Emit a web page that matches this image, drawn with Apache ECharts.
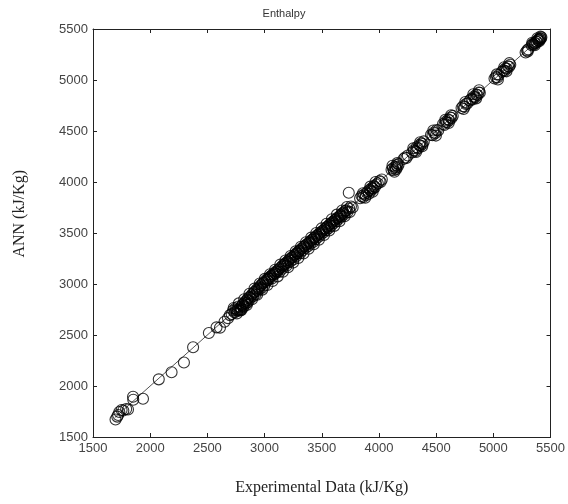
<!DOCTYPE html>
<html>
<head>
<meta charset="utf-8">
<title>Enthalpy</title>
<script src="https://cdn.jsdelivr.net/npm/echarts@6/dist/echarts.min.js"></script>
<style>
  html, body { margin: 0; padding: 0; background: #fff; }
  #chart { width: 568px; height: 504px; }
</style>
</head>
<body>
<div id="chart"></div>
<script>
// Enthalpy: ANN prediction vs experimental data (kJ/Kg)
const axisTicks = [1500, 2000, 2500, 3000, 3500, 4000, 4500, 5000, 5500];

// low-enthalpy points
const expLow = [1697, 1712, 1720, 1730, 1750, 1765, 1790, 1806, 1850, 1852, 1937, 2075, 2187, 2295, 2375, 2513, 2580, 2610, 2650, 2680, 2697];
const annLow = [1672, 1700, 1716, 1745, 1765, 1760, 1775, 1770, 1895, 1865, 1875, 2065, 2135, 2230, 2380, 2520, 2575, 2572, 2630, 2665, 2695];

// dense middle band
const expMid = [2712, 2725, 2738, 2745, 2752, 2760, 2771, 2780, 2788, 2795, 2802, 2810, 2818, 2826, 2833, 2840, 2848, 2855, 2862, 2870,
  2878, 2886, 2893, 2900, 2908, 2915, 2922, 2930, 2938, 2945, 2952, 2960, 2968, 2975, 2983, 2990, 2998, 3005, 3012, 3020,
  3028, 3035, 3042, 3050, 3058, 3065, 3072, 3080, 3088, 3095, 3102, 3110, 3118, 3125, 3132, 3140, 3148, 3155, 3162, 3170,
  3178, 3185, 3192, 3200, 3208, 3215, 3222, 3230, 3238, 3245, 3252, 3260, 3268, 3275, 3282, 3290, 3298, 3305, 3312, 3320,
  3328, 3335, 3342, 3350, 3358, 3365, 3372, 3380, 3388, 3395, 3402, 3410, 3418, 3425, 3432, 3440, 3448, 3455, 3462, 3470,
  3478, 3485, 3492, 3500, 3508, 3515, 3522, 3530, 3538, 3545, 3552, 3560, 3568, 3575, 3582, 3590, 3598, 3605, 3612, 3620,
  3628, 3635, 3642, 3650, 3658, 3665, 3672, 3680, 3688, 3695, 3705, 3715, 3725, 3740, 3755, 3770, 2790, 2815, 2765, 2850];
const annMid = [2705, 2740, 2722, 2760, 2748, 2735, 2780, 2742, 2770, 2755, 2790, 2800, 2785, 2815, 2830, 2812, 2845, 2860, 2838, 2875,
  2865, 2890, 2902, 2880, 2918, 2925, 2900, 2945, 2932, 2960, 2948, 2975, 2990, 2962, 3005, 3012, 2985, 3030, 3018, 3045,
  3038, 3060, 3050, 3072, 3080, 3055, 3095, 3088, 3110, 3102, 3125, 3118, 3135, 3145, 3120, 3160, 3170, 3150, 3185, 3176,
  3195, 3205, 3180, 3220, 3212, 3235, 3245, 3225, 3258, 3266, 3240, 3280, 3290, 3270, 3305, 3298, 3318, 3325, 3302, 3340,
  3350, 3330, 3365, 3372, 3355, 3385, 3392, 3370, 3405, 3415, 3398, 3428, 3435, 3412, 3450, 3458, 3440, 3470, 3480, 3462,
  3492, 3500, 3485, 3515, 3522, 3505, 3535, 3545, 3528, 3558, 3565, 3548, 3580, 3590, 3570, 3600, 3612, 3595, 3625, 3632,
  3615, 3645, 3655, 3640, 3665, 3675, 3660, 3690, 3700, 3682, 3715, 3722, 3705, 3740, 3760, 3750, 2740, 2775, 2745, 2818];

// wider-scatter points within the middle band
const expSpread = [2730, 2758, 2775, 2798, 2822, 2845, 2868, 2890, 2912, 2935, 2958, 2980, 3002, 3025, 3048, 3070, 3092, 3115, 3138, 3160,
  3182, 3205, 3228, 3250, 3272, 3295, 3318, 3340, 3362, 3385, 3408, 3430, 3452, 3475, 3498, 3520, 3542, 3565, 3588, 3610,
  3632, 3655, 3678, 3700, 3720, 3745];
const annSpread = [2765, 2712, 2810, 2745, 2850, 2795, 2905, 2850, 2955, 2895, 3005, 2945, 3050, 2990, 3095, 3030, 3140, 3075, 3190, 3120,
  3230, 3165, 3275, 3210, 3320, 3255, 3365, 3300, 3410, 3345, 3455, 3390, 3500, 3435, 3545, 3480, 3590, 3525, 3635, 3570,
  3680, 3615, 3720, 3665, 3755, 3705];

// upper clusters
const expHigh = [3736, 3835, 3848, 3860, 3872, 3885, 3895, 3905, 3912, 3920, 3930, 3938, 3948, 3955, 3965, 3975, 3990, 4005, 4015, 4025,
  4110, 4122, 4130, 4140, 4148, 4155, 4163, 4172, 4215, 4228, 4240, 4252,
  4290, 4305, 4318, 4330, 4342, 4352, 4362, 4372, 4382, 4392,
  4455, 4468, 4480, 4492, 4505, 4518, 4560, 4572, 4583, 4595, 4605, 4615, 4625, 4635, 4645,
  4722, 4735, 4748, 4760, 4772, 4795, 4808, 4818, 4830, 4842, 4852, 4862, 4872, 4882,
  5010, 5022, 5035, 5048, 5075, 5088, 5098, 5108, 5118, 5128, 5138, 5148,
  5282, 5295, 5305, 5335, 5345, 5352, 5360, 5368, 5375, 5382, 5388, 5395, 5400, 5405, 5410, 5415, 5420,
  3860, 3880, 3925, 3945, 3970, 4118, 4135, 4160, 4150, 4300, 4325, 4360, 4378,
  4475, 4498, 4580, 4610, 4630, 4740, 4755, 4825, 4850, 4875,
  5030, 5040, 5095, 5115, 5140, 5300, 5340, 5362, 5385, 5400, 5412];
const annHigh = [3895, 3840, 3862, 3850, 3880, 3870, 3895, 3910, 3885, 3925, 3915, 3940, 3935, 3960, 3950, 3975, 3985, 4010, 4000, 4025,
  4120, 4135, 4115, 4150, 4140, 4165, 4150, 4175, 4225, 4240, 4235, 4260,
  4290, 4312, 4305, 4340, 4330, 4362, 4355, 4380, 4372, 4398,
  4462, 4458, 4485, 4478, 4510, 4505, 4568, 4560, 4590, 4585, 4612, 4605, 4632, 4628, 4648,
  4725, 4742, 4738, 4765, 4770, 4800, 4815, 4808, 4838, 4832, 4858, 4852, 4878, 4875,
  5015, 5030, 5025, 5052, 5080, 5095, 5088, 5115, 5110, 5135, 5130, 5150,
  5270, 5290, 5300, 5340, 5352, 5345, 5365, 5360, 5378, 5372, 5392, 5388, 5402, 5395, 5410, 5405, 5418,
  3890, 3845, 3955, 3905, 4000, 4160, 4100, 4185, 4125, 4330, 4295, 4390, 4350,
  4505, 4455, 4610, 4578, 4655, 4715, 4785, 4860, 4820, 4900,
  5055, 5005, 5125, 5085, 5165, 5280, 5365, 5340, 5410, 5380, 5425];

// fitted line endpoints
const fitX = [1690, 5420];
const fitY = [1690, 5420];

const toPairs = (xs, ys) => xs.map((x, i) => [x, ys[i]]);
const points = [].concat(toPairs(expLow, annLow), toPairs(expMid, annMid), toPairs(expSpread, annSpread), toPairs(expHigh, annHigh));
const fitLine = toPairs(fitX, fitY);

const tickFont = { color: '#444', fontFamily: 'Liberation Sans, Arial, sans-serif', fontSize: 13 };
const serifName = { color: '#222', fontFamily: 'Liberation Serif, Times New Roman, serif', fontSize: 16 };

function mainAxis(extra) {
  return Object.assign({
    type: 'value', min: axisTicks[0], max: axisTicks[axisTicks.length - 1], interval: 500,
    axisLine: { show: true, onZero: false, lineStyle: { color: '#222', width: 1 } },
    axisTick: { show: true, inside: true, length: 4, lineStyle: { color: '#222' } },
    axisLabel: Object.assign({ margin: 5, formatter: v => String(v) }, tickFont),
    splitLine: { show: false }
  }, extra || {});
}
function mirrorAxis(pos) {
  return {
    type: 'value', position: pos, min: axisTicks[0], max: axisTicks[axisTicks.length - 1], interval: 500,
    axisLine: { show: true, onZero: false, lineStyle: { color: '#222', width: 1 } },
    axisTick: { show: true, inside: true, length: 4, lineStyle: { color: '#222' } },
    axisLabel: { show: false },
    splitLine: { show: false }
  };
}

const chart = echarts.init(document.getElementById('chart'), null, { renderer: 'canvas' });
chart.setOption({
  backgroundColor: '#fff',
  animation: false,
  title: {
    text: 'Enthalpy', left: 'center', top: 3,
    textStyle: { color: '#333', fontFamily: 'Liberation Sans, Arial, sans-serif', fontSize: 11, fontWeight: 'normal' }
  },
  grid: { left: 93, right: 17, top: 29, bottom: 67 },
  xAxis: [mainAxis({
    position: 'bottom', name: 'Experimental Data (kJ/Kg)', nameLocation: 'middle', nameGap: 43, nameTextStyle: serifName
  }), mirrorAxis('top')],
  yAxis: [mainAxis({ position: 'left' }), mirrorAxis('right')],
  graphic: [{
    type: 'text', left: 12, top: 170, rotation: Math.PI / 2,
    style: { text: 'ANN (kJ/Kg)', fill: '#222', font: '16px "Liberation Serif", "Times New Roman", serif' }
  }],
  series: [
    {
      type: 'line', data: fitLine, xAxisIndex: 0, yAxisIndex: 0,
      symbol: 'none', lineStyle: { color: '#555', width: 1 }, z: 1
    },
    {
      type: 'scatter', data: points, xAxisIndex: 0, yAxisIndex: 0,
      symbol: 'circle', symbolSize: 11,
      itemStyle: { color: 'rgba(0,0,0,0)', borderColor: '#000', borderWidth: 1.1 }, z: 2
    }
  ]
});
</script>
</body>
</html>
